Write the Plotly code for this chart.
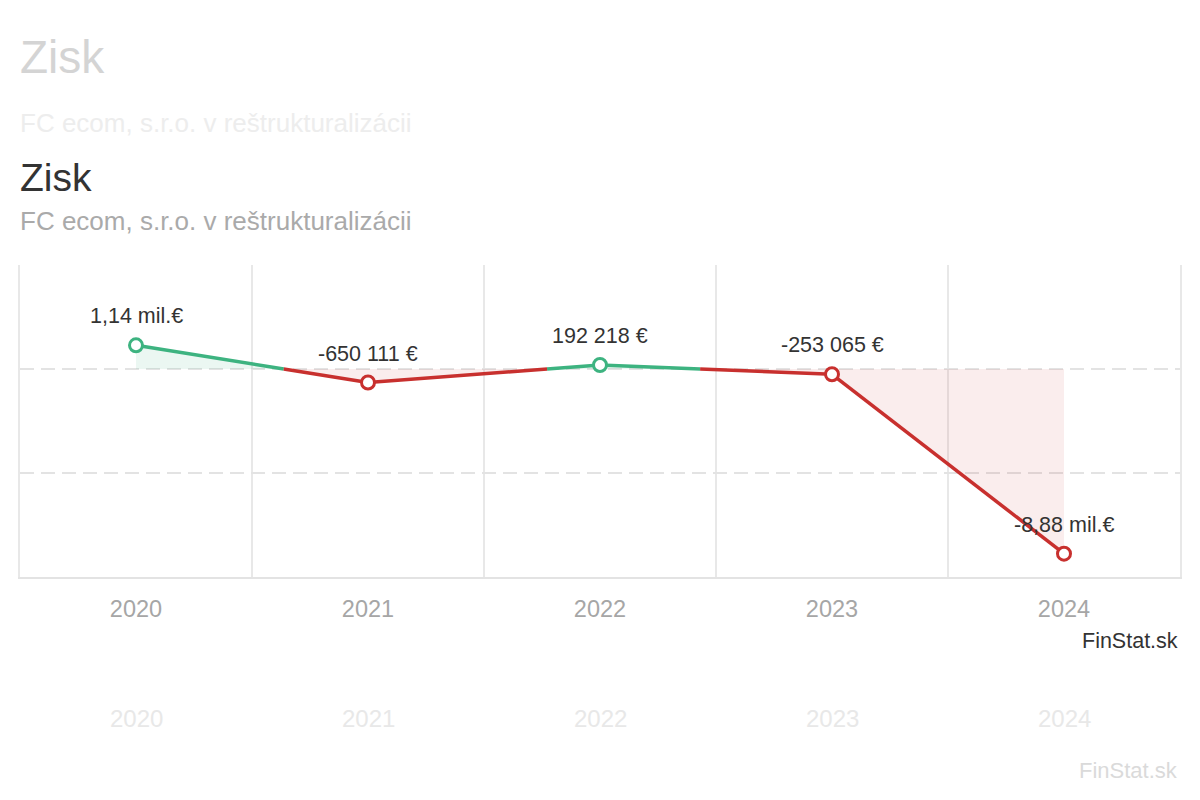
import plotly.graph_objects as go

# ---- data ----
years = ["2020", "2021", "2022", "2023", "2024"]
profit = [1_140_000, -650_111, 192_218, -253_065, -8_880_000]
value_labels = ["1,14 mil.€", "-650 111 €", "192 218 €", "-253 065 €", "-8,88 mil.€"]
y_grid = [-10_000_000, -5_000_000, 0, 5_000_000]

title = "Zisk"
subtitle = "FC ecom, s.r.o. v reštrukturalizácii"
source = "FinStat.sk"

GREEN = "#3db380"
RED = "#c8302e"
GREEN_FILL = "rgba(61,179,128,0.10)"
RED_FILL = "rgba(200,48,46,0.085)"
FONT = "Arial, 'Liberation Sans', sans-serif"

xs_idx = list(range(len(years)))

# densify with zero crossings
dx = [xs_idx[0]]
dy = [profit[0]]
for i in range(1, len(profit)):
    a, b = profit[i - 1], profit[i]
    if (a > 0 > b) or (a < 0 < b):
        xc = (i - 1) + a / (a - b)
        dx.append(xc)
        dy.append(0)
    dx.append(xs_idx[i])
    dy.append(b)

pos_x, pos_y, neg_x, neg_y = [], [], [], []
for j in range(1, len(dx)):
    mid = (dy[j - 1] + dy[j]) / 2
    if mid >= 0:
        pos_x += [dx[j - 1], dx[j], None]
        pos_y += [dy[j - 1], dy[j], None]
    else:
        neg_x += [dx[j - 1], dx[j], None]
        neg_y += [dy[j - 1], dy[j], None]

fig = go.Figure()

fig.add_trace(go.Scatter(x=dx, y=[max(v, 0) for v in dy], mode="lines", line=dict(width=0),
                         fill="tozeroy", fillcolor=GREEN_FILL, hoverinfo="skip", showlegend=False))
fig.add_trace(go.Scatter(x=dx, y=[min(v, 0) for v in dy], mode="lines", line=dict(width=0),
                         fill="tozeroy", fillcolor=RED_FILL, hoverinfo="skip", showlegend=False))
fig.add_trace(go.Scatter(x=pos_x, y=pos_y, mode="lines", line=dict(color=GREEN, width=3.5),
                         hoverinfo="skip", showlegend=False))
fig.add_trace(go.Scatter(x=neg_x, y=neg_y, mode="lines", line=dict(color=RED, width=3.5),
                         hoverinfo="skip", showlegend=False))
fig.add_trace(go.Scatter(
    x=xs_idx, y=profit, mode="markers",
    marker=dict(size=13, color="white",
                line=dict(width=3, color=[GREEN if v >= 0 else RED for v in profit])),
    hoverinfo="skip", showlegend=False))

annotations = []
for i, (v, lab) in enumerate(zip(profit, value_labels)):
    annotations.append(dict(x=i, y=v, xref="x", yref="y", text=lab, showarrow=False,
                            yshift=29, font=dict(size=21.5, color="#333333", family=FONT)))

# title block
annotations.append(dict(x=0, y=1.282, xref="paper", yref="paper", text=title, showarrow=False,
                        xanchor="left", yanchor="middle", xshift=-2,
                        font=dict(size=39, color="#333333", family=FONT)))
annotations.append(dict(x=0, y=1.141, xref="paper", yref="paper", text=subtitle, showarrow=False,
                        xanchor="left", yanchor="middle", xshift=-2,
                        font=dict(size=26, color="#aaaaaa", family=FONT)))
annotations.append(dict(x=1, y=-0.205, xref="paper", yref="paper", text=source, showarrow=False,
                        xanchor="right", yanchor="middle", font=dict(size=21.5, color="#333333", family=FONT)))

# faint (blurred in the reference) duplicated header/footer
annotations.append(dict(x=0, y=1.667, xref="paper", yref="paper", text=title, showarrow=False,
                        xanchor="left", yanchor="middle", xshift=-2,
                        font=dict(size=46, color="#d4d4d4", family=FONT)))
annotations.append(dict(x=0, y=1.455, xref="paper", yref="paper", text=subtitle, showarrow=False,
                        xanchor="left", yanchor="middle", xshift=-2,
                        font=dict(size=26, color="#ededed", family=FONT)))
for i, yr in enumerate(years):
    annotations.append(dict(x=i, y=-0.452, xref="x", yref="paper", text=yr, showarrow=False,
                            yanchor="middle", font=dict(size=24, color="#e8e8e8", family=FONT)))
annotations.append(dict(x=1, y=-0.619, xref="paper", yref="paper", text=source, showarrow=False,
                        xanchor="right", yanchor="middle", font=dict(size=22, color="#dadada", family=FONT)))

fig.update_layout(
    width=1200, height=800,
    margin=dict(l=12, r=28, t=257, b=231),
    paper_bgcolor="white", plot_bgcolor="white",
    font=dict(family=FONT),
    annotations=annotations,
    showlegend=False,
    xaxis=dict(
        range=[-0.5, len(years) - 0.5],
        tickmode="array", tickvals=xs_idx, ticktext=years,
        showgrid=False, zeroline=False,
        showline=True, linecolor="#e3e3e3", linewidth=2,
        ticks="", ticklabelstandoff=10,
        tickfont=dict(size=23.5, color="#a6a6a6", family=FONT),
        minor=dict(tickmode="array", tickvals=[i + 0.5 for i in xs_idx[:-1]],
                   showgrid=True, gridcolor="#e8e8e8", gridwidth=1.5, ticks=""),
        fixedrange=True,
    ),
    yaxis=dict(
        range=[y_grid[0], y_grid[-1]],
        tickmode="array", tickvals=y_grid,
        showticklabels=False, zeroline=False,
        showgrid=True, gridcolor="#e3e3e3", gridwidth=2, griddash="14px,7px",
        showline=True, mirror=True, linecolor="#e8e8e8", linewidth=1.5,
        fixedrange=True,
    ),
)

fig.write_html("out.html")
